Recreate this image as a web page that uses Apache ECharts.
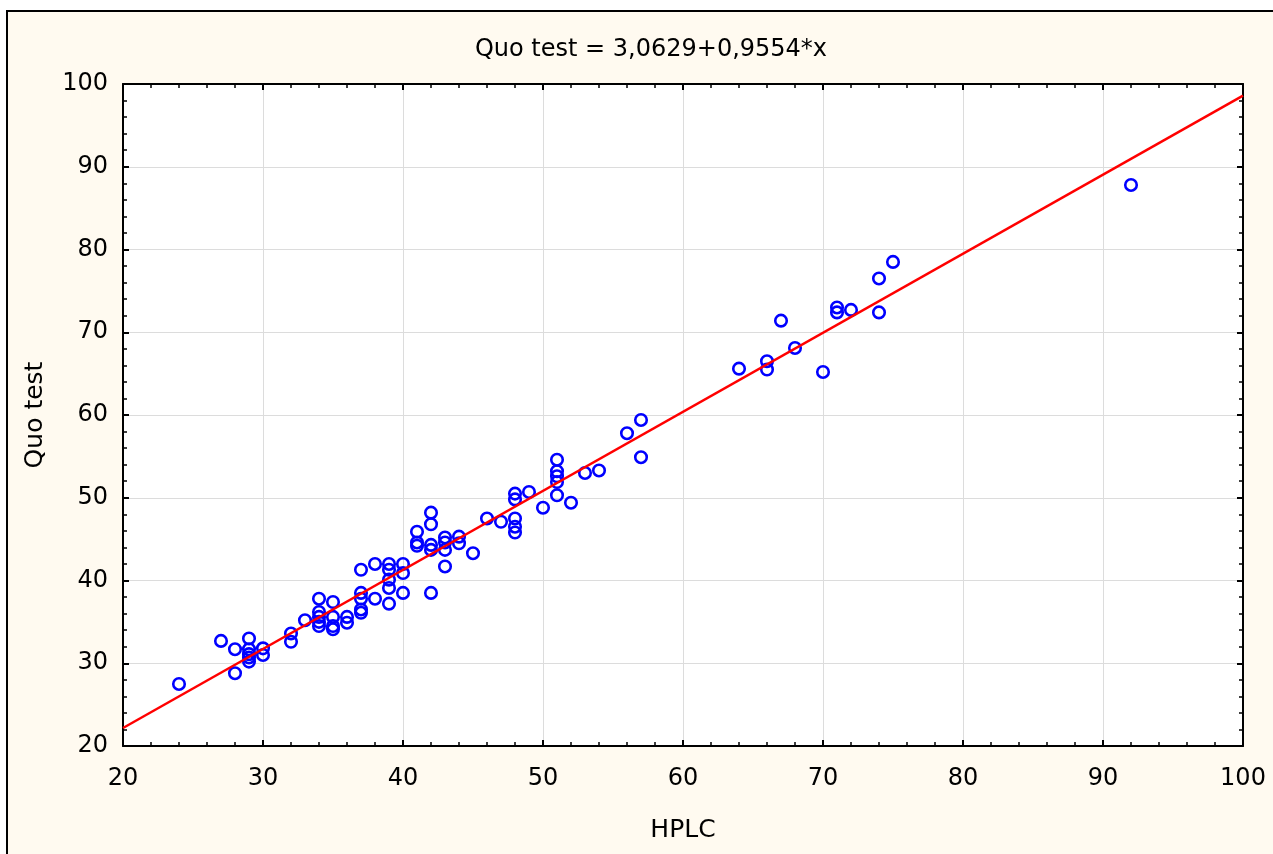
<!DOCTYPE html>
<html>
<head>
<meta charset="utf-8">
<script src="https://cdn.jsdelivr.net/npm/echarts@6/dist/echarts.min.js"></script>
<style>
  html, body { margin: 0; padding: 0; background: #fff; overflow: hidden; }
  #chart { width: 1273px; height: 854px; }
</style>
</head>
<body>
<div id="chart"></div>
<script>
// HPLC vs Quo test
const hplc = [
  24, 27, 28, 28, 29, 29, 29, 29, 29, 30, 30, 32, 32, 33,
  34, 34, 34, 34, 34, 35, 35, 35, 35, 36, 36,
  37, 37, 37, 37, 37, 38, 38, 39, 39, 39, 39, 39, 40, 40, 40,
  41, 41, 41, 42, 42, 42, 42, 42, 43, 43, 43, 43, 44, 44, 45,
  46, 47, 48, 48, 48, 48, 48, 49, 50, 51, 51, 51, 51, 51, 52, 53, 54,
  56, 57, 57, 64, 66, 66, 67, 68, 70, 71, 71, 72, 74, 74, 75, 92
];
const quo = [
  27.5, 32.7, 31.7, 28.8, 33.0, 31.7, 31.1, 30.7, 30.2, 31.8, 31.0, 33.6, 32.6, 35.2,
  37.8, 36.2, 35.6, 35.0, 34.5, 37.4, 35.6, 34.5, 34.1, 35.6, 34.9,
  41.3, 38.5, 37.8, 36.5, 36.1, 42.0, 37.8, 42.0, 41.3, 40.1, 39.1, 37.2, 42.0, 40.9, 38.5,
  45.9, 44.6, 44.2, 48.2, 46.8, 44.3, 43.7, 38.5, 45.2, 44.6, 43.7, 41.7, 45.3, 44.5, 43.3,
  47.5, 47.1, 50.5, 49.8, 47.5, 46.5, 45.8, 50.7, 48.8, 54.6, 53.2, 52.6, 51.9, 50.3, 49.4, 53.0, 53.3,
  57.8, 59.4, 54.9, 65.6, 66.5, 65.5, 71.4, 68.1, 65.2, 73.0, 72.4, 72.7, 76.5, 72.4, 78.5, 87.8
];
const intercept = 3.0629;
const slope = 0.9554;
const fitRange = [20, 100];
const titleText = 'Quo test = 3,0629+0,9554*x';

const points = hplc.map((x, i) => [x, quo[i]]);
const fitLine = fitRange.map(x => [x, intercept + slope * x]);

const font = 'DejaVu Sans, Liberation Sans, Arial, sans-serif';

function axisBase(min, max, show) {
  return {
    type: 'value',
    min: min,
    max: max,
    interval: 10,
    axisLine: { show: true, onZero: false, lineStyle: { color: '#000', width: 2 } },
    axisTick: { show: true, inside: true, length: 6, lineStyle: { color: '#000', width: 2 } },
    minorTick: { show: true, splitNumber: 5, length: 4, lineStyle: { color: '#000', width: 1.5 } },
    axisLabel: { show: show, color: '#000', fontSize: 24, fontFamily: font },
    splitLine: { show: show, lineStyle: { color: '#dcdcdc', width: 1 } }
  };
}

const chart = echarts.init(document.getElementById('chart'));
chart.setOption({
  animation: false,
  backgroundColor: '#fff',
  graphic: [{
    type: 'rect',
    z: -100,
    silent: true,
    shape: { x: 7, y: 11, width: 1300, height: 900 },
    style: { fill: '#fffaf0', stroke: '#000', lineWidth: 2 }
  }],
  title: {
    text: titleText,
    left: 646,
    top: 33,
    textAlign: 'center',
    textStyle: { fontSize: 24, fontWeight: 'normal', color: '#000', fontFamily: font }
  },
  grid: {
    left: 123, top: 84, width: 1120, height: 662,
    show: true, backgroundColor: '#fff', borderWidth: 0
  },
  xAxis: [
    Object.assign(axisBase(20, 100, true), {
      position: 'bottom',
      name: 'HPLC', nameLocation: 'middle', nameGap: 72,
      nameTextStyle: { fontSize: 25, color: '#000', fontFamily: font },
      axisLabel: { show: true, color: '#000', fontSize: 24, fontFamily: font, margin: 21 }
    }),
    Object.assign(axisBase(20, 100, false), { position: 'top' })
  ],
  yAxis: [
    Object.assign(axisBase(20, 100, true), {
      position: 'left',
      name: 'Quo test', nameLocation: 'middle', nameGap: 75, nameRotate: 90,
      nameTextStyle: { fontSize: 25, color: '#000', fontFamily: font },
      axisLabel: { show: true, color: '#000', fontSize: 24, fontFamily: font, margin: 15 }
    }),
    Object.assign(axisBase(20, 100, false), { position: 'right' })
  ],
  series: [
    {
      type: 'line',
      data: fitLine,
      symbol: 'none',
      lineStyle: { color: '#ff0000', width: 2.5 },
      z: 3
    },
    {
      type: 'scatter',
      data: points,
      symbol: 'circle',
      symbolSize: 11.5,
      itemStyle: { color: 'rgba(0,0,0,0)', borderColor: '#0000ff', borderWidth: 2.6, opacity: 1 },
      z: 2
    }
  ]
});
</script>
</body>
</html>
